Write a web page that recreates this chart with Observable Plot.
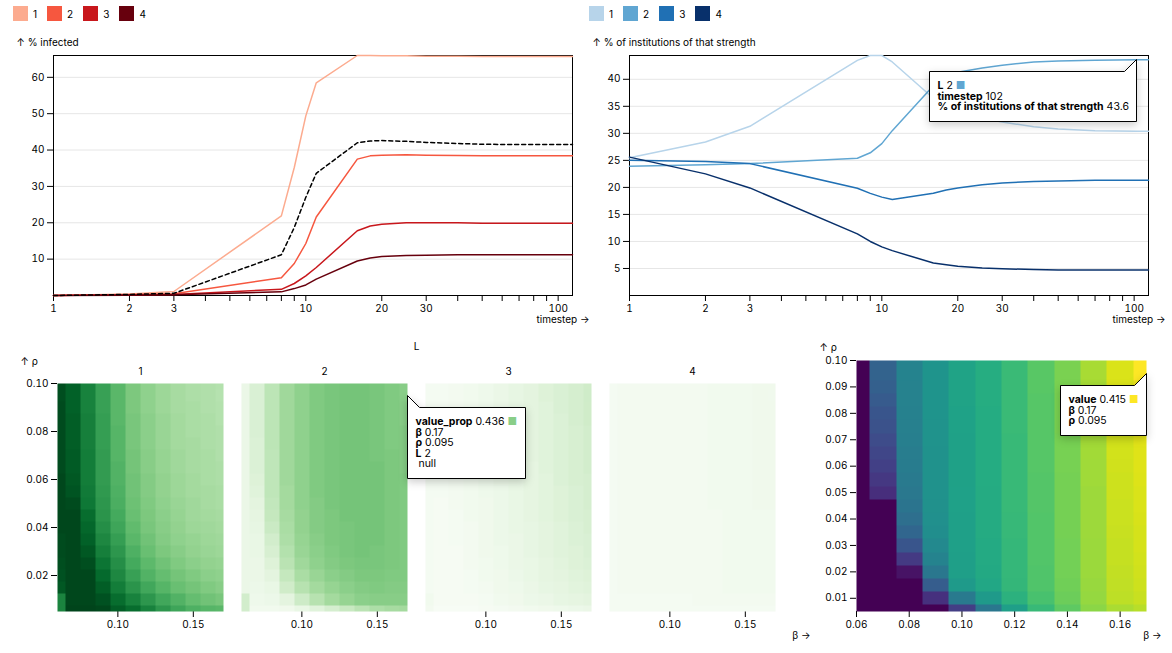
<!DOCTYPE html>
<html><head><meta charset="utf-8">
<script src="https://cdn.jsdelivr.net/npm/d3@7"></script>
<script src="https://cdn.jsdelivr.net/npm/@observablehq/plot@0.6"></script>
<style>
html,body{margin:0;padding:0;background:#fff;}
#root{position:relative;width:1172px;height:653px;overflow:hidden;background:#fff;}
.box{position:absolute;}
#root *{font-family: Inter, "DejaVu Sans", sans-serif !important;}
</style></head><body><div id="root"></div>
<script>
// ---------- top charts: time series ----------
const levels = [1, 2, 3, 4];
const timesteps = [1, 2, 3, 8, 9, 10, 11, 16, 18, 20, 25, 30, 40, 50, 70, 102, 114];
const infected1 = [0, 0.4, 1.1, 21.9, 35.2, 49.4, 58.5, 66.0, 66.0, 65.9, 65.9, 65.8, 65.8, 65.7, 65.7, 65.7, 65.7];
const infected2 = [0, 0.3, 0.5, 4.9, 8.8, 14.3, 21.6, 37.5, 38.4, 38.6, 38.7, 38.6, 38.5, 38.4, 38.4, 38.4, 38.4];
const infected3 = [0, 0.2, 0.3, 1.7, 3.3, 5.4, 7.7, 17.8, 19.1, 19.6, 20.0, 20.0, 20.0, 19.9, 19.9, 19.9, 19.9];
const infected4 = [0, 0.1, 0.2, 1.0, 1.9, 2.9, 4.5, 9.5, 10.3, 10.7, 11.0, 11.1, 11.2, 11.2, 11.2, 11.2, 11.2];
const infectedAll = [0, 0.3, 0.6, 11.2, 18.7, 27.0, 33.6, 42.0, 42.5, 42.6, 42.4, 42.1, 41.8, 41.6, 41.5, 41.5, 41.5];
const inst1 = [25.5, 28.4, 31.3, 43.5, 44.4, 44.4, 43.2, 36.5, 34.8, 33.8, 32.8, 32.1, 31.2, 30.8, 30.5, 30.4, 30.4];
const inst2 = [23.9, 24.2, 24.4, 25.4, 26.4, 28.1, 30.5, 38.8, 40.4, 41.3, 42.1, 42.6, 43.2, 43.4, 43.5, 43.6, 43.6];
const inst3 = [25.0, 24.8, 24.4, 19.85, 18.9, 18.2, 17.75, 18.9, 19.5, 19.9, 20.5, 20.8, 21.1, 21.2, 21.3, 21.3, 21.3];
const inst4 = [25.6, 22.5, 19.9, 11.4, 10.0, 9.0, 8.3, 6.0, 5.7, 5.4, 5.1, 4.95, 4.8, 4.7, 4.7, 4.7, 4.7];
const infTicks = [10, 20, 30, 40, 50, 60];
const instTicks = [5, 10, 15, 20, 25, 30, 35, 40];
const redsRange = ["#fcab8f", "#f6573f", "#c8171c", "#67000d"];
const bluesRange = ["#b7d4ea", "#60a6d2", "#2070b4", "#08306b"];

// ---------- bottom charts: parameter grids ----------
const betas = [0.06, 0.07, 0.08, 0.09, 0.10, 0.11, 0.12, 0.13, 0.14, 0.15, 0.16, 0.17];
const rhos = [0.10, 0.095, 0.09, 0.085, 0.08, 0.075, 0.07, 0.065, 0.06, 0.055, 0.05, 0.045, 0.04, 0.035, 0.03, 0.025, 0.02, 0.015, 0.01, 0.005];
const rhoAxisLabel = [{L: 1, text: "↑ ρ"}];
const propL1 = [
 [.96,.90,.78,.66,.56,.47,.42,.38,.35,.33,.32,.31],
 [.96,.90,.78,.66,.56,.47,.42,.38,.35,.33,.32,.304],
 [.97,.90,.78,.66,.56,.47,.42,.38,.35,.34,.32,.31],
 [.97,.91,.79,.67,.56,.48,.43,.39,.36,.34,.33,.31],
 [.97,.91,.79,.67,.57,.48,.43,.39,.36,.34,.33,.32],
 [.97,.91,.79,.67,.57,.48,.43,.39,.36,.35,.33,.32],
 [.97,.92,.80,.68,.57,.49,.44,.40,.37,.35,.34,.32],
 [.97,.92,.80,.68,.58,.49,.44,.40,.37,.35,.34,.33],
 [.98,.93,.80,.68,.58,.50,.45,.41,.38,.36,.34,.33],
 [.98,.94,.81,.69,.59,.50,.45,.41,.38,.36,.35,.34],
 [.98,.97,.82,.70,.60,.51,.46,.42,.39,.37,.35,.34],
 [.98,.98,.86,.71,.62,.52,.47,.43,.40,.37,.36,.35],
 [.98,.98,.88,.73,.64,.54,.48,.44,.41,.38,.37,.36],
 [.97,.98,.90,.76,.67,.56,.50,.45,.42,.40,.38,.37],
 [.97,.98,.93,.79,.70,.59,.52,.47,.44,.41,.39,.38],
 [.96,.98,.96,.83,.73,.62,.55,.50,.46,.43,.41,.40],
 [.95,.98,.98,.87,.76,.66,.58,.53,.49,.46,.43,.42],
 [.93,.98,.98,.91,.80,.71,.63,.57,.52,.49,.46,.44],
 [.77,.98,.98,.95,.86,.78,.70,.63,.58,.53,.50,.48],
 [.77,.99,.99,.98,.91,.86,.78,.70,.64,.59,.57,.56]
];
const propL2 = [
 [.08,.17,.28,.37,.42,.46,.48,.49,.49,.48,.46,.44],
 [.08,.17,.28,.37,.42,.46,.48,.49,.49,.48,.46,.436],
 [.08,.17,.28,.37,.42,.46,.48,.49,.49,.48,.46,.44],
 [.08,.17,.28,.37,.42,.46,.48,.49,.49,.48,.46,.44],
 [.08,.17,.28,.37,.42,.46,.48,.49,.49,.48,.46,.45],
 [.08,.16,.28,.37,.42,.46,.48,.49,.49,.48,.46,.45],
 [.08,.16,.27,.37,.42,.46,.48,.49,.49,.48,.47,.45],
 [.08,.16,.27,.37,.42,.46,.48,.49,.49,.49,.47,.45],
 [.08,.15,.27,.37,.42,.46,.48,.49,.49,.49,.47,.46],
 [.08,.14,.27,.36,.42,.46,.48,.49,.49,.49,.47,.46],
 [.08,.12,.26,.36,.42,.45,.48,.49,.49,.49,.47,.46],
 [.08,.11,.25,.35,.41,.45,.47,.49,.49,.49,.47,.46],
 [.08,.10,.23,.34,.41,.45,.47,.48,.49,.49,.47,.46],
 [.08,.09,.20,.33,.40,.44,.47,.48,.49,.49,.47,.46],
 [.08,.09,.18,.31,.39,.43,.46,.48,.49,.48,.47,.46],
 [.08,.08,.15,.29,.37,.42,.45,.47,.48,.48,.47,.46],
 [.08,.08,.12,.25,.34,.39,.43,.45,.47,.47,.46,.46],
 [.08,.07,.09,.21,.30,.36,.40,.43,.45,.46,.45,.45],
 [.20,.06,.07,.12,.22,.30,.36,.40,.43,.44,.44,.44],
 [.20,.04,.04,.05,.09,.14,.19,.24,.29,.33,.35,.36]
];
const propL3 = [
 [.02,.02,.03,.04,.06,.08,.10,.12,.15,.17,.19,.21],
 [.02,.02,.03,.04,.06,.08,.10,.12,.15,.17,.19,.213],
 [.02,.02,.03,.04,.06,.08,.10,.12,.14,.17,.19,.21],
 [.02,.02,.03,.04,.06,.08,.10,.12,.14,.16,.19,.21],
 [.02,.02,.03,.04,.06,.08,.10,.12,.14,.16,.18,.20],
 [.02,.02,.03,.04,.06,.08,.10,.12,.14,.16,.18,.20],
 [.02,.02,.03,.04,.06,.08,.10,.12,.14,.16,.18,.20],
 [.02,.02,.03,.04,.06,.08,.10,.11,.14,.16,.18,.20],
 [.02,.02,.03,.04,.06,.08,.09,.11,.13,.16,.18,.19],
 [.02,.02,.03,.04,.06,.07,.09,.11,.13,.15,.17,.19],
 [.02,.01,.03,.04,.05,.07,.09,.11,.13,.15,.17,.19],
 [.02,.01,.02,.04,.05,.07,.09,.11,.13,.15,.17,.18],
 [.02,.01,.02,.03,.05,.07,.09,.10,.12,.14,.16,.18],
 [.02,.01,.02,.03,.05,.07,.08,.10,.12,.14,.16,.17],
 [.02,.01,.01,.03,.05,.06,.08,.10,.12,.14,.15,.17],
 [.02,.01,.01,.03,.04,.06,.08,.09,.11,.13,.15,.16],
 [.02,.01,.01,.02,.04,.05,.07,.09,.11,.12,.14,.15],
 [.02,.01,.01,.02,.03,.05,.06,.08,.10,.11,.13,.14],
 [.04,.01,.01,.01,.02,.04,.05,.07,.08,.10,.11,.12],
 [.03,.00,.00,.00,.01,.02,.03,.04,.05,.06,.07,.08]
];
const propL4 = [
 [.02,.03,.03,.03,.03,.03,.03,.04,.04,.04,.05,.05],
 [.02,.03,.03,.03,.03,.03,.03,.04,.04,.04,.05,.047],
 [.02,.03,.03,.03,.03,.03,.03,.04,.04,.04,.05,.05],
 [.02,.03,.03,.03,.03,.03,.03,.04,.04,.04,.05,.05],
 [.02,.03,.03,.03,.03,.03,.03,.04,.04,.04,.05,.05],
 [.02,.03,.03,.03,.03,.03,.03,.04,.04,.04,.05,.05],
 [.02,.03,.03,.03,.03,.03,.03,.04,.04,.04,.05,.05],
 [.02,.03,.03,.03,.03,.03,.03,.04,.04,.04,.05,.05],
 [.02,.03,.03,.03,.03,.03,.03,.04,.04,.04,.05,.05],
 [.02,.03,.03,.03,.03,.03,.03,.04,.04,.04,.05,.05],
 [.02,.03,.03,.03,.03,.03,.03,.04,.04,.04,.05,.05],
 [.02,.03,.03,.03,.03,.03,.03,.03,.04,.04,.04,.04],
 [.02,.03,.03,.03,.03,.03,.03,.03,.04,.04,.04,.04],
 [.02,.03,.03,.03,.03,.03,.03,.03,.04,.04,.04,.04],
 [.02,.03,.03,.03,.03,.03,.03,.03,.04,.04,.04,.04],
 [.02,.03,.03,.03,.03,.03,.03,.03,.04,.04,.04,.04],
 [.02,.03,.03,.03,.03,.03,.03,.03,.04,.04,.04,.04],
 [.02,.03,.03,.03,.03,.03,.03,.03,.04,.04,.04,.04],
 [.02,.02,.02,.02,.02,.02,.03,.03,.03,.03,.03,.03],
 [.02,.02,.02,.02,.02,.02,.02,.02,.02,.02,.02,.02]
];
const valueGrid = [
 [0,.130,.185,.215,.240,.257,.282,.307,.332,.360,.392,.415],
 [0,.130,.185,.215,.240,.257,.282,.307,.332,.360,.392,.415],
 [0,.125,.184,.215,.240,.257,.282,.307,.332,.359,.391,.403],
 [0,.118,.183,.214,.240,.257,.281,.306,.331,.359,.390,.400],
 [0,.110,.181,.214,.239,.256,.281,.306,.331,.358,.389,.398],
 [0,.104,.179,.213,.239,.256,.281,.306,.331,.358,.388,.397],
 [0,.095,.177,.213,.238,.256,.280,.305,.330,.357,.387,.396],
 [0,.087,.175,.212,.238,.255,.280,.305,.330,.357,.386,.395],
 [0,.078,.172,.212,.237,.255,.280,.305,.330,.356,.385,.394],
 [0,.068,.170,.211,.237,.255,.279,.304,.329,.356,.384,.393],
 [0,.055,.166,.210,.236,.254,.279,.304,.329,.355,.383,.392],
 [0,0,.160,.208,.236,.254,.279,.304,.329,.355,.382,.391],
 [0,0,.150,.206,.235,.253,.278,.303,.328,.354,.381,.390],
 [0,0,.135,.203,.235,.253,.278,.303,.328,.354,.380,.389],
 [0,0,.110,.196,.234,.252,.277,.302,.327,.353,.379,.388],
 [0,0,.070,.185,.233,.252,.277,.302,.327,.352,.378,.386],
 [0,0,.020,.165,.232,.251,.276,.301,.326,.352,.377,.385],
 [0,0,0,.120,.225,.248,.274,.300,.325,.351,.376,.383],
 [0,0,0,.058,.170,.225,.265,.295,.322,.349,.373,.380],
 [0,0,0,0,.075,.165,.232,.280,.312,.343,.362,.370]
];

// ---------- build tables ----------
const infSeries = [infected1, infected2, infected3, infected4];
const instSeries = [inst1, inst2, inst3, inst4];
const infRows = levels.flatMap((L, k) => infSeries[k].map((v, i) => ({timestep: timesteps[i], L, pct: v})));
const infAllRows = infectedAll.map((v, i) => ({timestep: timesteps[i], pct: v}));
const instRows = levels.flatMap((L, k) => instSeries[k].map((v, i) => ({timestep: timesteps[i], L, pct: v})));
const propGrids = [propL1, propL2, propL3, propL4];
const propRows = [];
levels.forEach((L, k) => rhos.forEach((rho, i) => betas.forEach((beta, j) => propRows.push({L, beta, rho, value_prop: propGrids[k][i][j]}))));
const valRows = [];
rhos.forEach((rho, i) => betas.forEach((beta, j) => valRows.push({beta, rho, value: valueGrid[i][j]})));

const root = document.getElementById("root");
function place(el, left, top) {
  const d = document.createElement("div");
  d.className = "box";
  d.style.left = left + "px";
  d.style.top = top + "px";
  d.appendChild(el);
  root.appendChild(d);
}
const tipFont = 10.5;

// top-left
const p1 = Plot.plot({
  width: 579, height: 290, marginLeft: 40, marginRight: 20, marginTop: 20, marginBottom: 30,
  x: {type: "log", label: "timestep"},
  y: {label: "% infected", grid: true, domain: [0, d3.max(infRows, d => d.pct)], ticks: infTicks},
  color: {type: "ordinal", domain: levels, range: redsRange},
  marks: [
    Plot.frame(),
    Plot.line(infRows, {x: "timestep", y: "pct", stroke: "L", strokeWidth: 1.5}),
    Plot.line(infAllRows, {x: "timestep", y: "pct", stroke: "black", strokeWidth: 1.5, strokeDasharray: "4,3"})
  ]
});
place(p1.legend("color"), 13, -3);
place(p1, 13, 35);

// top-right
const tipInst = instRows.filter(d => d.L === 2 && d.timestep === 102);
const p2 = Plot.plot({
  width: 579, height: 290, marginLeft: 40, marginRight: 20, marginTop: 20, marginBottom: 30,
  x: {type: "log", label: "timestep"},
  y: {label: "% of institutions of that strength", grid: true, domain: [0, d3.max(instRows, d => d.pct)], ticks: instTicks},
  color: {type: "ordinal", domain: levels, range: bluesRange},
  marks: [
    Plot.frame(),
    Plot.line(instRows, {x: "timestep", y: "pct", stroke: "L", strokeWidth: 1.5}),
    Plot.tip(tipInst, {x: "timestep", y: "pct", anchor: "top-right", fontSize: tipFont,
      channels: {L: {value: "L", scale: "color", label: "L"}},
      format: {L: true, x: true, y: true}})
  ]
});
place(p2.legend("color"), 589, -3);
place(p2, 589, 35);

// bottom-left facets
const tipProp = propRows.filter(d => d.L === 2 && d.beta === 0.17 && d.rho === 0.095).map(d => ({...d, extra: " null"}));
const p3 = Plot.plot({
  width: 796, height: 302, marginLeft: 40, marginRight: 38, marginTop: 44, marginBottom: 30,
  fx: {label: "L", paddingInner: 0.1, paddingOuter: 0},
  x: {label: "β"},
  y: {label: "ρ"},
  color: {scheme: "greens"},
  marks: [
    Plot.axisY({label: null}),
    Plot.raster(propRows, {x: "beta", y: "rho", fill: "value_prop", fx: "L", interpolate: "nearest"}),
    Plot.text(rhoAxisLabel, {fx: "L", text: "text", frameAnchor: "top-left", textAnchor: "start", lineAnchor: "top", dx: -37, dy: -26}),
    Plot.tip(tipProp, {x: "beta", y: "rho", fx: "L", anchor: "top-left", fontSize: tipFont,
      channels: {value_prop: {value: "value_prop", scale: "color", label: "value_prop"}, "": {value: "extra", label: ""}},
      format: {value_prop: true, x: true, y: true, fx: true, "": true}})
  ]
});
place(p3, 17, 339);

// bottom-right
const tipVal = valRows.filter(d => d.beta === 0.17 && d.rho === 0.095);
const p4 = Plot.plot({
  width: 348, height: 301, marginLeft: 40, marginRight: 18, marginTop: 20, marginBottom: 30,
  x: {label: "β"},
  y: {label: "ρ"},
  color: {scheme: "viridis"},
  marks: [
    Plot.raster(valRows, {x: "beta", y: "rho", fill: "value", interpolate: "nearest"}),
    Plot.tip(tipVal, {x: "beta", y: "rho", anchor: "top-right", fontSize: tipFont,
      channels: {value: {value: "value", scale: "color", label: "value"}},
      format: {value: true, x: true, y: true}})
  ]
});
place(p4, 816, 340);
</script></body></html>
